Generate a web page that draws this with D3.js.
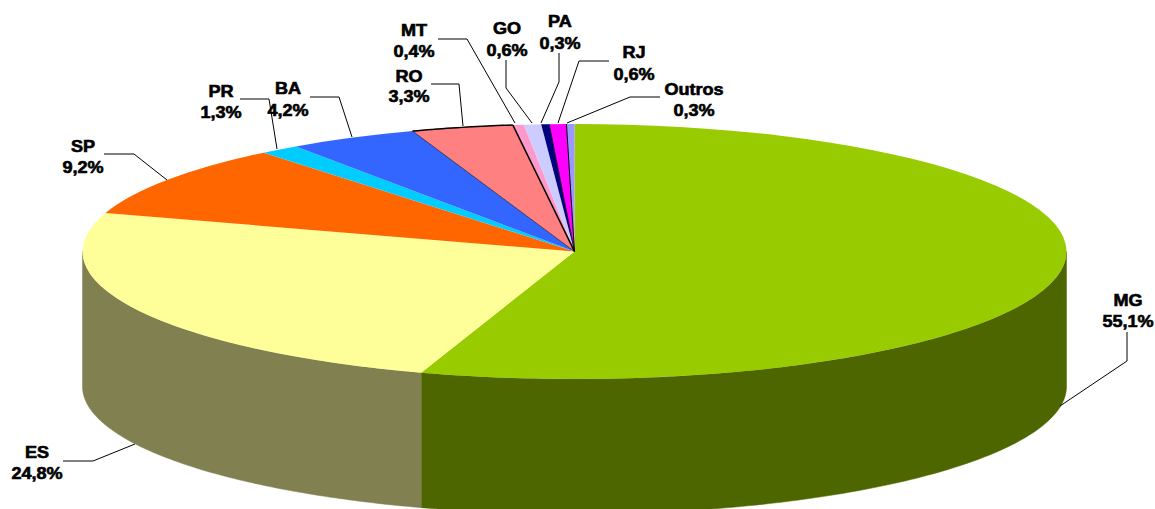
<!DOCTYPE html>
<html><head><meta charset="utf-8">
<script src="https://cdn.jsdelivr.net/npm/d3@7/dist/d3.min.js"></script>
<style>html,body{margin:0;background:#fff}svg{display:block}
text{font-family:"Liberation Sans",Arial,sans-serif;font-weight:bold;font-size:16px;fill:#000;stroke:#000;stroke-width:.6px;text-anchor:middle}</style>
</head><body><script>
const categories=["MG","ES","SP","PR","BA","RO","MT","GO","PA","RJ","Outros"];
const values=[55.05,24.84,9.24,1.3,4.24,3.34,0.36,0.56,0.26,0.56,0.26];
const valueLabels=["55,1%","24,8%","9,2%","1,3%","4,2%","3,3%","0,4%","0,6%","0,3%","0,6%","0,3%"];
const topColors=["#99CC00","#FFFF99","#FF6600","#00CCFF","#3366FF","#FF8080","#FF99CC","#CCCCFF","#000080","#FF00FF","#9999FF"];
const wallColors=["#4D6600","#808050"];
const labelCenters=[[1128,300,321],[37,452,473],[83,146,167],[221,91,112],[288,88,110],[409,76,96],[414,30,51],[507,28,50],[560,21,43],[634,52,74],[694,89,110]];
const leaders=[
 [[1127,332],[1127,361],[1060,406]],
 [[63,461],[93,461],[135,444]],
 [[104,154],[134,154],[167,180]],
 [[240,99],[269,99],[277,149]],
 [[310,97],[339,97],[352,137]],
 [[431,84],[459,84],[463,126]],
 [[438,39],[467,39],[515,123]],
 [[506,60],[506,88],[532,123]],
 [[559,53],[559,82],[541,123]],
 [[609,61],[579,61],[558,123]],
 [[660,97],[630,97],[567,123]]];
const cx=574.5,cy=251.5,rx=492,ry=127.5,depth=135,textStretch=1.13;

const svg=d3.select("body").append("svg").attr("width",1155).attr("height",509);
const arcs=d3.pie().sort(null)(values);
const px=a=>cx+rx*Math.sin(a), py=a=>cy-ry*Math.cos(a);
const line=d3.line();

// side walls (front half of the pie only)
const front=[Math.PI/2,3*Math.PI/2];
arcs.forEach((d,i)=>{
  const a0=Math.max(d.startAngle,front[0]),a1=Math.min(d.endAngle,front[1]);
  if(a1<=a0) return;
  const angles=d3.range(0,121).map(k=>a0+(a1-a0)*k/120);
  const pts=angles.map(a=>[px(a),py(a)]).concat(angles.slice().reverse().map(a=>[px(a),py(a)+depth]));
  svg.append("path").attr("d",line(pts)+"Z").attr("fill",wallColors[i]).attr("stroke",wallColors[i]).attr("stroke-width",.5);
});

// top face
const topFace=svg.append("g").attr("transform",`translate(${cx},${cy}) scale(1,${ry/rx})`);
const arc=d3.arc().innerRadius(0).outerRadius(rx);
topFace.selectAll("path").data(arcs).join("path").attr("d",arc).attr("fill",(d,i)=>topColors[i]);

// dark separators and RO rim
const radial=(i,w)=>svg.append("path").attr("d",line([[cx,cy],[px(arcs[i].endAngle),py(arcs[i].endAngle)]])).attr("stroke","#000").attr("stroke-width",w).attr("fill","none");
radial(4,.6);radial(5,1.6);radial(8,.8);radial(9,1);
const ro=arcs[5];
svg.append("path").attr("d",line(d3.range(0,21).map(k=>{const a=ro.startAngle+(ro.endAngle-ro.startAngle)*k/20;return [px(a),py(a)];})))
  .attr("fill","none").attr("stroke","#000").attr("stroke-width",1.5);

// leader lines
svg.append("g").selectAll("path").data(leaders).join("path").attr("d",line)
  .attr("fill","none").attr("stroke","#000").attr("stroke-width",1);

// labels
const lab=svg.append("g");
categories.forEach((c,i)=>{
  const [x,y1,y2]=labelCenters[i];
  lab.append("text").attr("transform",`translate(${x},${y1}) scale(${textStretch},1)`).attr("dy","0.35em").text(c);
  lab.append("text").attr("transform",`translate(${x},${y2}) scale(${textStretch},1)`).attr("dy","0.35em").text(valueLabels[i]);
});
</script></body></html>
